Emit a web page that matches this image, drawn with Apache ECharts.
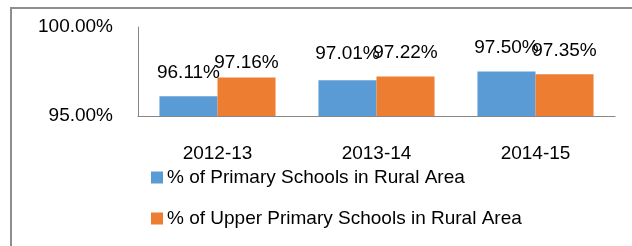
<!DOCTYPE html>
<html>
<head>
<meta charset="utf-8">
<script src="https://cdn.jsdelivr.net/npm/echarts@6/dist/echarts.min.js"></script>
<style>
  html, body { margin: 0; padding: 0; background: #fff; }
  #chart { width: 632px; height: 246px; }
</style>
</head>
<body>
<div id="chart"></div>
<script>
var years = ['2012-13', '2013-14', '2014-15']
var primary = [96.11, 97.01, 97.50]
var upperPrimary = [97.16, 97.22, 97.35]
var seriesNames = [
  '% of Primary Schools in Rural Area',
  '% of Upper Primary Schools in Rural Area',
]
var yTicks = [95, 100]

// label nudges (px, downwards) to follow the reference placement
var primaryLabelShift = [0, -3, 0]
var upperLabelShift = [9, 0, 0]

var font = 'Liberation Sans, Arial, sans-serif'
var pct = function (v) {
  return v.toFixed(2) + '%'
}

var withShift = function (values, shifts) {
  return values.map(function (v, i) {
    return { value: v, label: { offset: [0, shifts[i]] } }
  })
}

var chart = echarts.init(document.getElementById('chart'))

var barLabel = {
  show: true,
  position: 'top',
  distance: 14,
  color: '#000',
  fontFamily: font,
  fontSize: 19,
  formatter: function (p) {
    return pct(p.value)
  },
}

chart.setOption({
  animation: false,
  graphic: [
    {
      type: 'rect',
      shape: { x: 11, y: 8, width: 700, height: 400 },
      style: { fill: 'none', stroke: '#8e8e8e', lineWidth: 2 },
      silent: true,
    },
  ],
  grid: {
    left: 138,
    right: 17,
    top: 27,
    bottom: 130,
  },
  legend: {
    orient: 'vertical',
    left: 146,
    top: 163,
    itemWidth: 12,
    itemHeight: 12,
    itemGap: 22,
    icon: 'rect',
    textStyle: {
      color: '#000',
      fontFamily: font,
      fontSize: 19,
      padding: [0, 0, 0, -1],
    },
    data: seriesNames,
  },
  xAxis: {
    type: 'category',
    data: years,
    axisTick: { show: false },
    axisLine: { lineStyle: { color: '#868686', width: 1 } },
    axisLabel: {
      color: '#000',
      fontFamily: font,
      fontSize: 19,
      margin: 28,
    },
  },
  yAxis: {
    type: 'value',
    min: yTicks[0],
    max: yTicks[yTicks.length - 1],
    interval: 5,
    splitLine: { show: false },
    axisTick: { show: false },
    axisLine: { show: true, lineStyle: { color: '#868686', width: 1 } },
    axisLabel: {
      color: '#000',
      fontFamily: font,
      fontSize: 19,
      margin: 25,
      formatter: function (v) {
        return pct(v)
      },
    },
  },
  series: [
    {
      name: seriesNames[0],
      type: 'bar',
      data: withShift(primary, primaryLabelShift),
      barGap: '0%',
      barCategoryGap: '27%',
      itemStyle: { color: '#5B9BD5' },
      label: barLabel,
    },
    {
      name: seriesNames[1],
      type: 'bar',
      data: withShift(upperPrimary, upperLabelShift),
      barGap: '0%',
      barCategoryGap: '27%',
      itemStyle: { color: '#ED7D31' },
      label: barLabel,
    },
  ],
})
</script>
</body>
</html>
